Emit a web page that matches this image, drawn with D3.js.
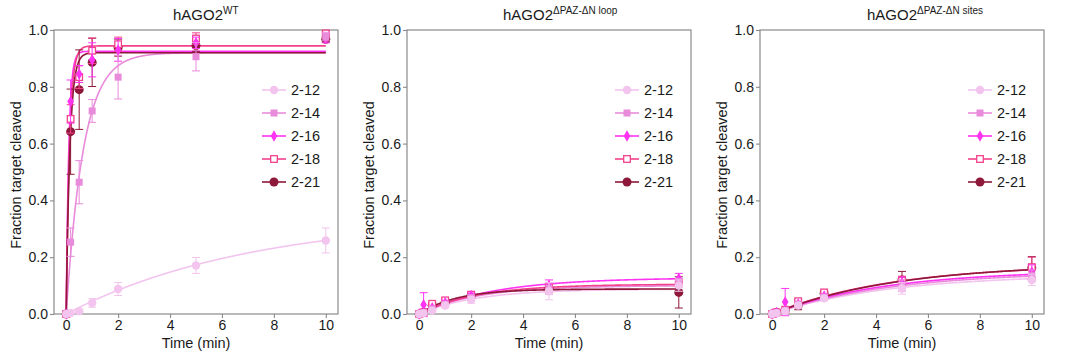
<!DOCTYPE html>
<html>
<head>
<meta charset="utf-8">
<script src="https://cdn.jsdelivr.net/npm/d3@7"></script>
<style>
  body { margin: 0; background: #fff; }
  svg { display: block; font-family: "Liberation Sans", Arial, sans-serif; }
</style>
</head>
<body>
<svg id="chart" width="1080" height="360"></svg>
<script>
// ---------------- DATA ----------------
const times = [0, 0.17, 0.5, 1, 2, 5, 10];
const seriesNames = ["2-12", "2-14", "2-16", "2-18", "2-21"];
const seriesColors = ["#f2c4ee", "#e98bdb", "#ff33f2", "#f2428c", "#8e1839"];
const seriesMarkers = ["circle", "square", "diamond", "openSquare", "circleBig"];
const xTicks = [0, 2, 4, 6, 8, 10];
const yTicks = [0, 0.2, 0.4, 0.6, 0.8, 1.0];
const titleMain = ["hAGO2", "hAGO2", "hAGO2"];
const titleSup = ["WT", "\u0394PAZ-\u0394N loop", "\u0394PAZ-\u0394N sites"];
const xLabel = "Time (min)";
const yLabel = "Fraction target cleaved";

// hAGO2 WT
const wt212 = [0, 0.003, 0.010, 0.039, 0.088, 0.171, 0.259];
const wt214 = [0, 0.253, 0.464, 0.715, 0.834, 0.906, 0.977];
const wt216 = [0, 0.748, 0.845, 0.895, 0.930, 0.955, 0.970];
const wt218 = [0, 0.687, 0.834, 0.927, 0.950, 0.970, 0.988];
const wt221 = [0, 0.642, 0.790, 0.886, 0.938, 0.945, 0.967];
const wt212err = [0, 0.002, 0.005, 0.015, 0.023, 0.028, 0.044];
const wt214err = [0, 0.050, 0.076, 0.040, 0.077, 0.050, 0.015];
const wt216err = [0, 0.076, 0.030, 0.060, 0.040, 0.020, 0.015];
const wt218err = [0, 0.050, 0.040, 0.045, 0.025, 0.020, 0.010];
const wt221err = [0, 0.150, 0.140, 0.085, 0.030, 0.020, 0.010];
const wtPlateau = [0.344, 0.920, 0.925, 0.944, 0.920];
const wtRate = [0.14, 1.5, 9.8, 7.7, 7.0];

// hAGO2 ΔPAZ-ΔN loop
const lp212 = [0, 0.003, 0.012, 0.030, 0.050, 0.080, 0.100];
const lp214 = [0, 0.005, 0.018, 0.035, 0.057, 0.090, 0.110];
const lp216 = [0, 0.033, 0.022, 0.040, 0.065, 0.100, 0.125];
const lp218 = [0, 0.006, 0.036, 0.048, 0.068, 0.095, 0.110];
const lp221 = [0, 0.005, 0.030, 0.042, 0.065, 0.090, 0.076];
const lp212err = [0, 0.002, 0.005, 0.008, 0.012, 0.030, 0.020];
const lp214err = [0, 0.002, 0.005, 0.008, 0.010, 0.020, 0.015];
const lp216err = [0, 0.042, 0.005, 0.008, 0.008, 0.020, 0.018];
const lp218err = [0, 0.002, 0.004, 0.006, 0.008, 0.015, 0.012];
const lp221err = [0, 0.002, 0.004, 0.006, 0.008, 0.015, 0.055];
const lpPlateau = [0.088, 0.100, 0.128, 0.105, 0.088];
const lpRate = [0.45, 0.45, 0.35, 0.45, 0.70];

// hAGO2 ΔPAZ-ΔN sites
const st212 = [0, 0.003, 0.010, 0.030, 0.055, 0.090, 0.120];
const st214 = [0, 0.004, 0.013, 0.035, 0.060, 0.100, 0.135];
const st216 = [0, 0.005, 0.042, 0.035, 0.063, 0.110, 0.148];
const st218 = [0, 0.006, 0.015, 0.045, 0.076, 0.118, 0.165];
const st221 = [0, 0.005, 0.012, 0.030, 0.072, 0.120, 0.162];
const st212err = [0, 0.002, 0.004, 0.006, 0.008, 0.020, 0.020];
const st214err = [0, 0.002, 0.004, 0.006, 0.008, 0.020, 0.020];
const st216err = [0, 0.002, 0.048, 0.006, 0.008, 0.020, 0.025];
const st218err = [0, 0.002, 0.004, 0.006, 0.008, 0.015, 0.035];
const st221err = [0, 0.002, 0.004, 0.015, 0.008, 0.030, 0.040];
const stPlateau = [0.140, 0.150, 0.155, 0.175, 0.178];
const stRate = [0.22, 0.22, 0.23, 0.22, 0.21];

const panelValues = [
  [wt212, wt214, wt216, wt218, wt221],
  [lp212, lp214, lp216, lp218, lp221],
  [st212, st214, st216, st218, st221]
];
const panelErrors = [
  [wt212err, wt214err, wt216err, wt218err, wt221err],
  [lp212err, lp214err, lp216err, lp218err, lp221err],
  [st212err, st214err, st216err, st218err, st221err]
];
const panelPlateau = [wtPlateau, lpPlateau, stPlateau];
const panelRate = [wtRate, lpRate, stRate];

// ---------------- LAYOUT ----------------
const panelLeft = [54, 407, 760];
const titleX = [173, 503, 867];
const plotW = 284, plotTop = 30, plotBottom = 314;
const frameColor = "#8a8a8a";
const textColor = "#1a1a1a";

const svg = d3.select("#chart");

function drawMarker(g, type, color, x, y) {
  if (type === "circle") {
    g.append("circle").attr("cx", x).attr("cy", y).attr("r", 4.2).attr("fill", color);
  } else if (type === "circleBig") {
    g.append("circle").attr("cx", x).attr("cy", y).attr("r", 4.5).attr("fill", color);
  } else if (type === "square") {
    g.append("rect").attr("x", x - 3.5).attr("y", y - 3.5).attr("width", 7).attr("height", 7).attr("fill", color);
  } else if (type === "openSquare") {
    g.append("rect").attr("x", x - 3.3).attr("y", y - 3.3).attr("width", 6.6).attr("height", 6.6)
      .attr("fill", "#fff").attr("stroke", color).attr("stroke-width", 1.3);
  } else if (type === "diamond") {
    g.append("path").attr("d", d3.symbol(d3.symbolDiamond, 38)()).attr("transform", `translate(${x},${y})`)
      .attr("fill", color);
  }
}

panelValues.forEach((vals, p) => {
  const left = panelLeft[p];
  const x = d3.scaleLinear().domain([-0.47, 10.47]).range([left, left + plotW]);
  const y = d3.scaleLinear().domain([0, 1]).range([plotBottom, plotTop]);
  const g = svg.append("g");

  // frame
  g.append("rect").attr("x", left).attr("y", plotTop).attr("width", plotW).attr("height", plotBottom - plotTop)
    .attr("fill", "none").attr("stroke", frameColor).attr("stroke-width", 1.2);

  // axes
  const xAxis = g.append("g").attr("transform", `translate(0,${plotBottom})`)
    .call(d3.axisBottom(x).tickValues(xTicks).tickSize(4).tickPadding(2).tickFormat(d3.format("d")));
  const yAxis = g.append("g").attr("transform", `translate(${left},0)`)
    .call(d3.axisLeft(y).tickValues(yTicks).tickSize(4).tickPadding(2).tickFormat(d3.format(".1f")));
  [xAxis, yAxis].forEach(a => {
    a.select(".domain").remove();
    a.selectAll(".tick line").attr("stroke", frameColor).attr("stroke-width", 1.1);
    a.selectAll(".tick text").attr("fill", textColor).style("font-size", "14px")
      .style("font-family", "'Liberation Sans', Arial, sans-serif");
  });

  // axis labels
  g.append("text").attr("x", left + plotW / 2).attr("y", 348).attr("text-anchor", "middle")
    .attr("fill", textColor).style("font-size", "14.5px").text(xLabel);
  g.append("text").attr("transform", `translate(${left - 37},${(plotTop + plotBottom) / 2 + 3}) rotate(-90)`)
    .attr("text-anchor", "middle").attr("dominant-baseline", "middle")
    .attr("fill", textColor).style("font-size", "14.5px").text(yLabel);

  // title
  const t = g.append("text").attr("x", titleX[p]).attr("y", 20).attr("fill", textColor).style("font-size", "15px");
  t.append("tspan").text(titleMain[p]);
  t.append("tspan").attr("dy", -6).style("font-size", "10px").text(titleSup[p]);

  // fitted curves
  const tFit = d3.range(0, 10.0001, 0.02);
  seriesNames.forEach((name, s) => {
    const A = panelPlateau[p][s], k = panelRate[p][s];
    const line = d3.line().x(d => x(d)).y(d => y(A * (1 - Math.exp(-k * d))));
    g.append("path").attr("d", line(tFit)).attr("fill", "none")
      .attr("stroke", seriesColors[s]).attr("stroke-width", 1.6);
  });

  // error bars + points (drawn last series first so light series sit on top)
  const order = d3.range(seriesNames.length).reverse();
  order.forEach(s => {
    const col = seriesColors[s];
    const eg = g.append("g");
    vals[s].forEach((v, i) => {
      const e = panelErrors[p][s][i];
      if (e > 0.003) {
        const cx = x(times[i]);
        eg.append("line").attr("x1", cx).attr("x2", cx).attr("y1", y(v - e)).attr("y2", y(v + e))
          .attr("stroke", col).attr("stroke-width", 1);
        [v - e, v + e].forEach(b => {
          eg.append("line").attr("x1", cx - 4).attr("x2", cx + 4).attr("y1", y(b)).attr("y2", y(b))
            .attr("stroke", col).attr("stroke-width", 1);
        });
      }
      drawMarker(eg, seriesMarkers[s], col, x(times[i]), y(v));
    });
  });

  // legend
  const legY0 = 90, legDy = 23;
  seriesNames.forEach((name, s) => {
    const ly = legY0 + s * legDy;
    const lg = g.append("g");
    lg.append("line").attr("x1", left + 208).attr("x2", left + 232).attr("y1", ly).attr("y2", ly)
      .attr("stroke", seriesColors[s]).attr("stroke-width", 1.6);
    drawMarker(lg, seriesMarkers[s], seriesColors[s], left + 220, ly);
    lg.append("text").attr("x", left + 237).attr("y", ly + 5).attr("fill", textColor)
      .style("font-size", "14.5px").text(name);
  });
});
</script>
</body>
</html>
